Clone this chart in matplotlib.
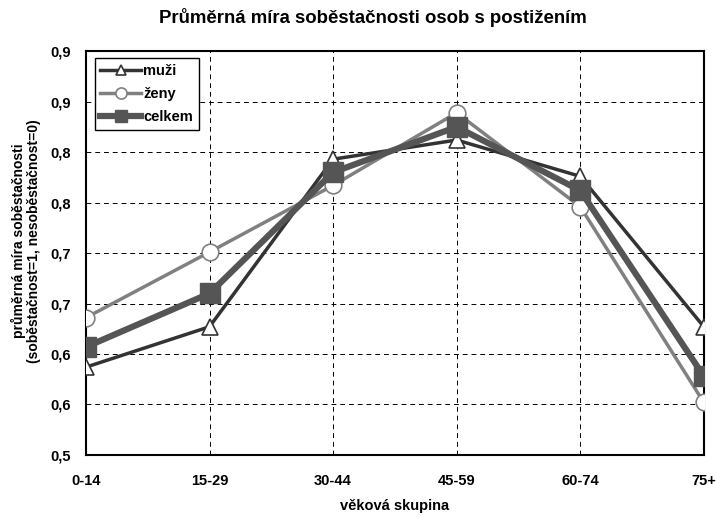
import matplotlib
matplotlib.use("Agg")
import matplotlib.pyplot as plt

plt.rcParams['font.family'] = ['Liberation Sans', 'DejaVu Sans']

categories = ["0-14", "15-29", "30-44", "45-59", "60-74", "75+"]
muzi = [0.587, 0.627, 0.793, 0.812, 0.776, 0.627]
zeny = [0.636, 0.701, 0.767, 0.839, 0.746, 0.552]
celkem = [0.607, 0.660, 0.780, 0.825, 0.762, 0.578]
ytick_values = [0.50, 0.55, 0.60, 0.65, 0.70, 0.75, 0.80, 0.85, 0.90]
ytick_labels = ["0,5", "0,6", "0,6", "0,7", "0,7", "0,8", "0,8", "0,9", "0,9"]

fig = plt.figure(figsize=(7.16, 5.17), dpi=100)
ax = fig.add_axes([0.120, 0.120, 0.863, 0.781])

x = list(range(len(categories)))
ax.plot(x, muzi, color="#333333", lw=2.5, marker="^", ms=12, mfc="white",
        mec="#333333", mew=1.2, label="muži", zorder=3)
ax.plot(x, zeny, color="#808080", lw=2.5, marker="o", ms=12, mfc="white",
        mec="#808080", mew=1.2, label="ženy", zorder=4)
ax.plot(x, celkem, color="#555555", lw=4.5, marker="s", ms=14.5, mfc="#555555",
        mec="#555555", label="celkem", zorder=5)

ax.set_xlim(0, len(categories) - 1)
ax.set_ylim(0.5, 0.9)
ax.set_xticks(x)
ax.set_xticklabels(categories, fontsize=10.5, fontweight="bold")
ax.set_yticks(ytick_values)
ax.set_yticklabels(ytick_labels, fontsize=10.5, fontweight="bold")
ax.tick_params(length=0, pad=11)
ax.tick_params(axis="x", pad=14)

ax.grid(True, color="black", linestyle=(0, (5, 4)), lw=0.7)
ax.set_axisbelow(True)
for s in ax.spines.values():
    s.set_linewidth(1.5)
    s.set_color("black")

fig.text(0.521, 0.966, "Průměrná míra soběstačnosti osob s postižením",
         fontsize=13.4, fontweight="bold", ha="center", va="center")
ax.set_xlabel("věková skupina", fontsize=10.5, fontweight="bold")
ax.xaxis.set_label_coords(0.5, -0.108)
ax.set_ylabel("průměrná míra soběstačnosti\n(soběstačnost=1, nesoběstačnost=0)",
              fontsize=10, fontweight="bold", linespacing=1.1)
ax.yaxis.set_label_coords(-0.072, 0.53)

leg = ax.legend(loc="upper left", bbox_to_anchor=(0.014, 0.982),
                prop={"weight": "bold", "size": 10.5}, fancybox=False,
                edgecolor="black", framealpha=1, handlelength=2.8,
                handletextpad=0.15, borderpad=0.4, labelspacing=0.6,
                borderaxespad=0)
leg.get_frame().set_linewidth(1.0)
for h, ms in zip(leg.legend_handles, [7, 8, 9]):
    h.set_markersize(ms)

fig.savefig("out.png", dpi=100)
